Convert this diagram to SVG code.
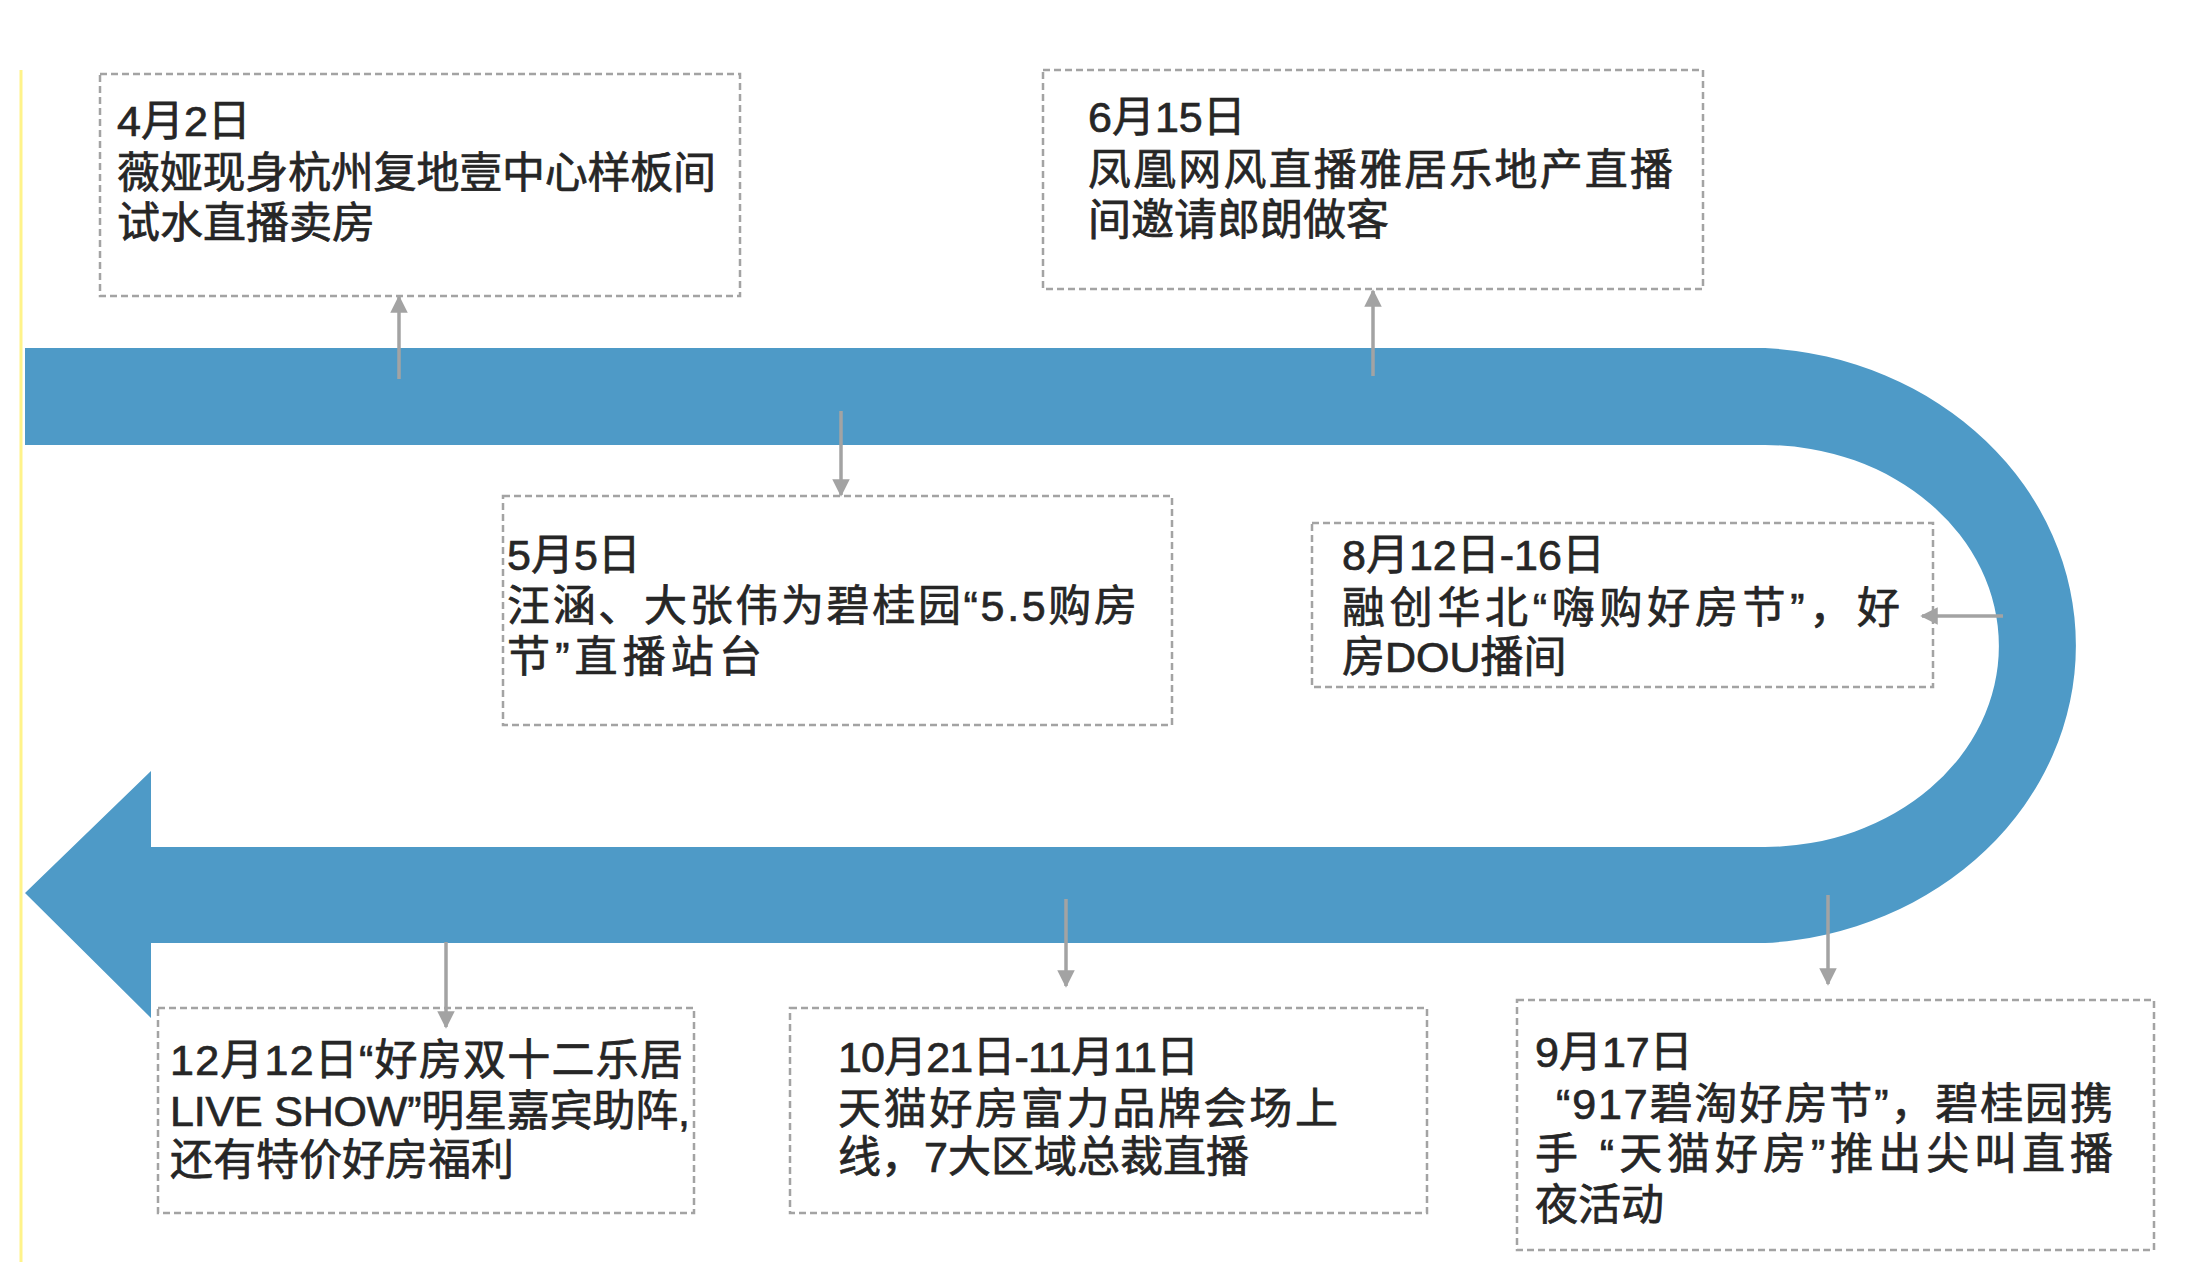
<svg xmlns="http://www.w3.org/2000/svg" width="2186" height="1280" viewBox="0 0 2186 1280">
<defs>
<style>
.box{fill:#ffffff;stroke:#a3a3a3;stroke-width:2.5;stroke-dasharray:7 4}
.t{font-family:"Liberation Sans","Noto Sans CJK SC",sans-serif;font-size:43px;font-weight:400;fill:#262626;stroke:#262626;stroke-width:0.7}
.conn{stroke:#a3a3a3;stroke-width:3.5;fill:none;marker-end:url(#ah)}
</style>
<marker id="ah" viewBox="0 0 10 10" refX="9" refY="5" markerWidth="5" markerHeight="5" orient="auto" markerUnits="strokeWidth">
<path d="M0,0 L10,5 L0,10 Z" fill="#a3a3a3"/>
</marker>
</defs>
<rect width="2186" height="1280" fill="#ffffff"/>
<line x1="21" y1="70" x2="21" y2="1262" stroke="#fff38a" stroke-width="3"/>
<g id="timeline">
<path d="M25,348 H1765 A330,298 0 0 1 1765,943 H151 V1018 L25,893 L151,771 V847 H1765 A234,201 0 0 0 1765,445 H25 Z" fill="#4e9ac7"/>
</g>
<g id="n-0402">
<rect class="box" x="100" y="74" width="640" height="222"/>
<text class="t"><tspan x="117" y="136">4月2日</tspan><tspan x="117" y="188" textLength="599" lengthAdjust="spacing">薇娅现身杭州复地壹中心样板间</tspan><tspan x="117" y="238">试水直播卖房</tspan></text>
</g>
<g id="n-0615">
<rect class="box" x="1043" y="70" width="660" height="219"/>
<text class="t"><tspan x="1088" y="132">6月15日</tspan><tspan x="1088" y="185" textLength="585" lengthAdjust="spacing">凤凰网风直播雅居乐地产直播</tspan><tspan x="1088" y="235">间邀请郎朗做客</tspan></text>
</g>
<g id="n-0505">
<rect class="box" x="503" y="496" width="669" height="229"/>
<text class="t"><tspan x="507" y="570">5月5日</tspan><tspan x="507" y="621" textLength="630" lengthAdjust="spacing">汪涵、大张伟为碧桂园“5.5购房</tspan><tspan x="507" y="672" textLength="255" lengthAdjust="spacing">节”直播站台</tspan></text>
</g>
<g id="n-0812">
<rect class="box" x="1312" y="523" width="621" height="164"/>
<text class="t"><tspan x="1342" y="570">8月12日-16日</tspan><tspan x="1342" y="623" textLength="558" lengthAdjust="spacing">融创华北“嗨购好房节”，好</tspan><tspan x="1342" y="672">房DOU播间</tspan></text>
</g>
<g id="n-1212">
<rect class="box" x="158" y="1008" width="536" height="205"/>
<text class="t"><tspan x="170" y="1075" textLength="513" lengthAdjust="spacing">12月12日“好房双十二乐居</tspan><tspan x="170" y="1126" textLength="520" lengthAdjust="spacing">LIVE SHOW”明星嘉宾助阵,</tspan><tspan x="170" y="1175">还有特价好房福利</tspan></text>
</g>
<g id="n-1021">
<rect class="box" x="790" y="1008" width="637" height="205"/>
<text class="t"><tspan x="838" y="1072" textLength="361" lengthAdjust="spacing">10月21日-11月11日</tspan><tspan x="838" y="1124" textLength="500" lengthAdjust="spacing">天猫好房富力品牌会场上</tspan><tspan x="838" y="1172">线，7大区域总裁直播</tspan></text>
</g>
<g id="n-0917">
<rect class="box" x="1517" y="1000" width="637" height="250"/>
<text class="t"><tspan x="1535" y="1067">9月17日</tspan><tspan x="1556" y="1119" textLength="557" lengthAdjust="spacing">“917碧淘好房节”，碧桂园携</tspan><tspan x="1535" y="1169" textLength="578" lengthAdjust="spacing">手 “天猫好房”推出尖叫直播</tspan><tspan x="1535" y="1220">夜活动</tspan></text>
</g>
<g id="connectors">
<line class="conn" x1="399" y1="379" x2="399" y2="297"/>
<line class="conn" x1="1373" y1="376" x2="1373" y2="291"/>
<line class="conn" x1="841" y1="411" x2="841" y2="495"/>
<line class="conn" x1="2003" y1="616" x2="1922" y2="616"/>
<line class="conn" x1="446" y1="942" x2="446" y2="1027"/>
<line class="conn" x1="1066" y1="899" x2="1066" y2="986"/>
<line class="conn" x1="1828" y1="895" x2="1828" y2="984"/>
</g>
</svg>
